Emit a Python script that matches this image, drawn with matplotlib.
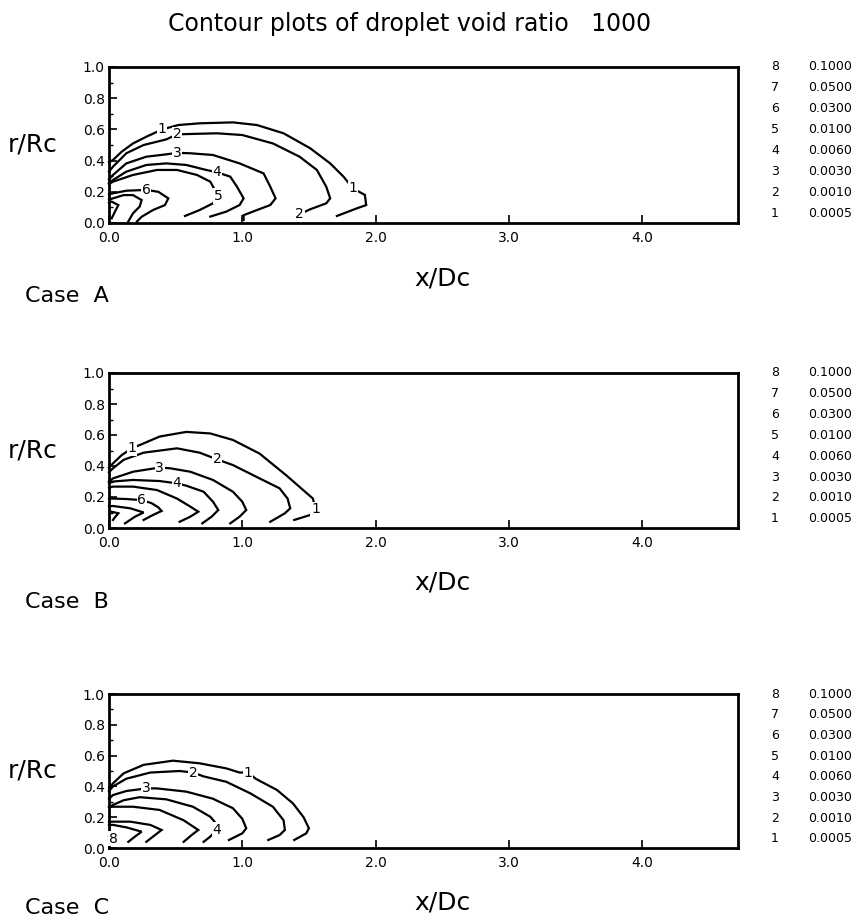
import matplotlib
matplotlib.use("Agg")
import matplotlib.pyplot as plt
from matplotlib.ticker import MultipleLocator

# level number -> droplet void ratio
levels = [8, 7, 6, 5, 4, 3, 2, 1]
void_ratio = ["0.1000", "0.0500", "0.0300", "0.0100", "0.0060", "0.0030", "0.0010", "0.0005"]

x_ticks = [0.0, 1.0, 2.0, 3.0, 4.0]
r_ticks = [0.0, 0.2, 0.4, 0.6, 0.8, 1.0]

# contour lines (x/Dc, r/Rc), one list per level 1..8
case_a = [
    [(0, 0.39), (0.03, 0.404), (0.095, 0.457), (0.18, 0.51), (0.28, 0.553), (0.40, 0.60), (0.52, 0.628),
     (0.68, 0.639), (0.93, 0.645), (1.11, 0.628), (1.31, 0.575), (1.51, 0.479), (1.66, 0.382), (1.76, 0.297),
     (1.83, 0.222), (1.92, 0.18), (1.93, 0.115), (1.86, 0.094), (1.71, 0.045)],
    [(0, 0.33), (0.03, 0.361), (0.13, 0.447), (0.26, 0.5), (0.43, 0.536), (0.51, 0.568), (0.58, 0.57),
     (0.81, 0.575), (1.0, 0.564), (1.23, 0.51), (1.43, 0.425), (1.56, 0.34), (1.63, 0.233), (1.66, 0.158),
     (1.63, 0.126), (1.51, 0.088), (1.43, 0.056)],
    [(0, 0.28), (0.03, 0.308), (0.13, 0.382), (0.28, 0.425), (0.43, 0.44), (0.51, 0.45), (0.61, 0.447),
     (0.78, 0.436), (0.98, 0.382), (1.16, 0.318), (1.21, 0.233), (1.25, 0.158), (1.21, 0.115), (1.11, 0.083),
     (1.01, 0.05), (1.01, 0.019)],
    [(0, 0.255), (0.03, 0.276), (0.13, 0.329), (0.28, 0.372), (0.43, 0.382), (0.58, 0.372), (0.73, 0.34),
     (0.81, 0.325), (0.91, 0.297), (0.96, 0.233), (1.01, 0.158), (0.98, 0.115), (0.88, 0.073), (0.76, 0.041)],
    [(0, 0.25), (0.03, 0.265), (0.18, 0.308), (0.36, 0.34), (0.51, 0.34), (0.66, 0.308), (0.76, 0.265),
     (0.82, 0.173), (0.78, 0.126), (0.68, 0.083), (0.57, 0.045)],
    [(0, 0.185), (0.03, 0.19), (0.13, 0.207), (0.28, 0.212), (0.37, 0.2), (0.445, 0.158), (0.42, 0.115),
     (0.33, 0.083), (0.245, 0.04), (0.21, 0.01)],
    [(0, 0.15), (0.03, 0.158), (0.11, 0.179), (0.18, 0.179), (0.245, 0.147), (0.23, 0.105), (0.18, 0.062),
     (0.145, 0.01)],
    [(0.0, 0.13), (0.02, 0.137), (0.07, 0.115), (0.045, 0.073), (0.02, 0.03)],
]
# vertex indices where the level number is written
case_a_lbl = [[5, 14], [5, 16], [5], [7], [7], [3], [], []]

case_b = [
    [(0, 0.39), (0.03, 0.417), (0.095, 0.47), (0.17, 0.514), (0.23, 0.535), (0.38, 0.59), (0.58, 0.62),
     (0.76, 0.61), (0.93, 0.568), (1.13, 0.48), (1.33, 0.34), (1.53, 0.19), (1.55, 0.12), (1.51, 0.084),
     (1.39, 0.052)],
    [(0, 0.36), (0.03, 0.385), (0.11, 0.44), (0.26, 0.486), (0.51, 0.514), (0.68, 0.486), (0.81, 0.443),
     (0.93, 0.406), (1.13, 0.32), (1.28, 0.256), (1.34, 0.19), (1.36, 0.127), (1.32, 0.095), (1.21, 0.04)],
    [(0, 0.30), (0.03, 0.32), (0.18, 0.363), (0.38, 0.39), (0.46, 0.385), (0.61, 0.363), (0.78, 0.31),
     (0.93, 0.234), (1.0, 0.17), (1.03, 0.116), (0.98, 0.073), (0.91, 0.03)],
    [(0, 0.29), (0.03, 0.3), (0.18, 0.31), (0.38, 0.303), (0.51, 0.288), (0.58, 0.273), (0.71, 0.234),
     (0.78, 0.17), (0.82, 0.116), (0.77, 0.073), (0.70, 0.03)],
    [(0, 0.26), (0.03, 0.267), (0.18, 0.267), (0.36, 0.245), (0.51, 0.19), (0.61, 0.138), (0.67, 0.105),
     (0.61, 0.073), (0.53, 0.04)],
    [(0, 0.19), (0.03, 0.19), (0.13, 0.187), (0.245, 0.18), (0.32, 0.16), (0.37, 0.133), (0.395, 0.11),
     (0.33, 0.084), (0.26, 0.052)],
    [(0, 0.14), (0.03, 0.142), (0.16, 0.127), (0.26, 0.1), (0.195, 0.073), (0.12, 0.03)],
    [(0.02, 0.105), (0.07, 0.095), (0.045, 0.07), (0.03, 0.052)],
]
case_b_lbl = [[3, 12], [6], [3], [4], [], [3], [], []]

case_c = [
    [(0, 0.39), (0.03, 0.42), (0.11, 0.485), (0.26, 0.54), (0.48, 0.567), (0.68, 0.55), (0.88, 0.517),
     (0.98, 0.49), (1.045, 0.49), (1.1, 0.45), (1.26, 0.377), (1.38, 0.29), (1.46, 0.2), (1.5, 0.128),
     (1.48, 0.095), (1.39, 0.052)],
    [(0, 0.37), (0.03, 0.4), (0.13, 0.45), (0.31, 0.49), (0.53, 0.5), (0.63, 0.49), (0.71, 0.465),
     (0.88, 0.43), (1.06, 0.355), (1.23, 0.268), (1.31, 0.18), (1.32, 0.117), (1.28, 0.084), (1.195, 0.052)],
    [(0, 0.32), (0.03, 0.344), (0.13, 0.37), (0.28, 0.387), (0.36, 0.387), (0.58, 0.366), (0.78, 0.32),
     (0.93, 0.258), (1.0, 0.19), (1.03, 0.128), (1.0, 0.095), (0.9, 0.052)],
    [(0, 0.265), (0.03, 0.28), (0.11, 0.31), (0.23, 0.33), (0.43, 0.316), (0.63, 0.268), (0.76, 0.203),
     (0.82, 0.143), (0.81, 0.12), (0.76, 0.074), (0.71, 0.04)],
    [(0, 0.265), (0.03, 0.268), (0.18, 0.268), (0.38, 0.247), (0.56, 0.18), (0.67, 0.117), (0.62, 0.084),
     (0.56, 0.04)],
    [(0, 0.17), (0.03, 0.171), (0.16, 0.171), (0.31, 0.15), (0.395, 0.117), (0.345, 0.084), (0.28, 0.04)],
    [(0, 0.15), (0.03, 0.15), (0.13, 0.134), (0.245, 0.106), (0.195, 0.074), (0.145, 0.04)],
    [(0.0, 0.075), (0.03, 0.06)],
]
case_c_lbl = [[8], [5], [3], [8], [], [], [], [1]]

cases = [("Case  A", case_a, case_a_lbl), ("Case  B", case_b, case_b_lbl), ("Case  C", case_c, case_c_lbl)]

W, H = 861, 924
fig = plt.figure(figsize=(W / 100, H / 100), dpi=100)

# axes boxes in pixels: left, top, right, bottom
boxes = [(109, 67, 738, 223), (109, 373, 738, 528), (109, 694, 738, 848)]
# how far below each axes the "Case" text sits (px)
case_drop = [73, 74, 60]

fig.text(410 / W, 1 - 24 / H, "Contour plots of droplet void ratio   1000",
         ha="center", va="center", fontsize=17)

for (name, lines, lbls), (l, t, r, b), drop in zip(cases, boxes, case_drop):
    ax = fig.add_axes([l / W, 1 - b / H, (r - l) / W, (b - t) / H])
    ax.set_xlim(0, 4.72)
    ax.set_ylim(0, 1.0)
    for s in ax.spines.values():
        s.set_linewidth(2.0)

    for num, (pts, idx) in enumerate(zip(lines, lbls), start=1):
        xs = [p[0] for p in pts]
        rs = [p[1] for p in pts]
        ax.plot(xs, rs, color="black", lw=1.6, solid_joinstyle="miter", clip_on=False)
        for i in idx:
            ax.text(xs[i], rs[i], str(num), ha="center", va="center", fontsize=10,
                    bbox=dict(boxstyle="square,pad=0.05", fc="white", ec="none"))

    ax.set_xticks(x_ticks)
    ax.set_xticklabels([f"{v:.1f}" for v in x_ticks])
    ax.set_yticks(r_ticks)
    ax.set_yticklabels([f"{v:.1f}" for v in r_ticks])
    ax.yaxis.set_minor_locator(MultipleLocator(0.1))
    ax.tick_params(direction="in", length=6, width=1.2, labelsize=10, pad=3)
    ax.tick_params(which="minor", direction="in", length=3, width=1.0)
    ax.tick_params(axis="x", pad=6)

    ax.text((8 - l) / (r - l), 0.5, "r/Rc", transform=ax.transAxes, ha="left", va="center", fontsize=18)
    ax.text((442 - l) / (r - l), -55 / (b - t), "x/Dc", transform=ax.transAxes,
            ha="center", va="center", fontsize=18)
    ax.text((25 - l) / (r - l), -drop / (b - t), name, transform=ax.transAxes,
            ha="left", va="center", fontsize=16)

    # level key on the right
    for k, (lev, val) in enumerate(zip(levels, void_ratio)):
        yk = 1.0 - k * (0.94 / 7)
        ax.text((775 - l) / (r - l), yk, str(lev), transform=ax.transAxes,
                ha="center", va="center", fontsize=9)
        ax.text((808 - l) / (r - l), yk, val, transform=ax.transAxes,
                ha="left", va="center", fontsize=9)

fig.savefig("out.png", dpi=100)
